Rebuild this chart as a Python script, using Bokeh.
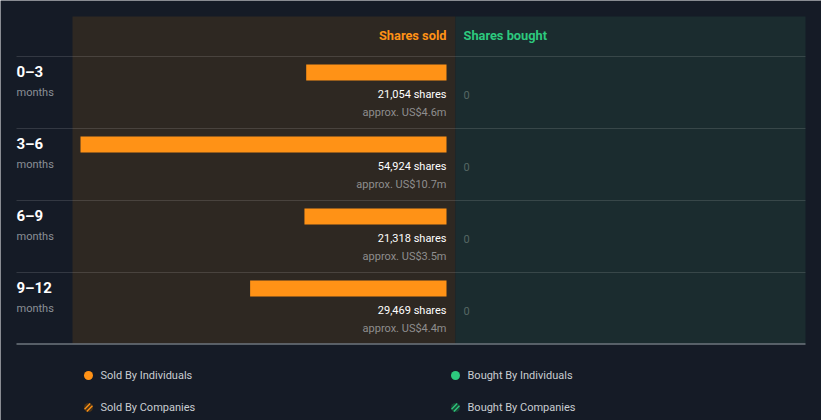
import math
from bokeh.plotting import figure
from bokeh.models import Range1d, ColumnDataSource
from bokeh.core.properties import value
from bokeh.embed import file_html
from bokeh.resources import INLINE

# ---- data ----
periods = ["0\u20133", "3\u20136", "6\u20139", "9\u201312"]
period_unit = ["months", "months", "months", "months"]
shares_sold = [21054, 54924, 21318, 29469]
sold_value = ["US$4.6m", "US$10.7m", "US$3.5m", "US$4.4m"]
shares_bought = [0, 0, 0, 0]
legend_labels = ["Sold By Individuals", "Bought By Individuals", "Sold By Companies", "Bought By Companies"]

# ---- layout (pixels) ----
W, H = 821, 420
BAR_RIGHT_PX = 446
BAR_MAX_PX = 366
k = max(shares_sold) / BAR_MAX_PX          # shares per pixel
S0 = BAR_RIGHT_PX * k


def px(x):
    return S0 - x * k


BG = "#151b26"
SOLD_BG = "#2e2822"
BOUGHT_BG = "#1b2c2f"
ORANGE = "#ff9216"
GREEN = "#2dc97e"
FONT = value("Roboto")

p = figure(width=W, height=H, output_backend="svg", toolbar_location=None,
           x_range=Range1d(px(0), px(W)), y_range=Range1d(H, 0),
           min_border=0, background_fill_color=BG, border_fill_color=BG,
           outline_line_color=None)
p.axis.visible = False
p.grid.visible = False

# panels
p.quad(left=[px(72)], right=[px(455)], top=[16], bottom=[343], fill_color=SOLD_BG, line_color=None)
p.quad(left=[px(455)], right=[px(805)], top=[16], bottom=[343], fill_color=BOUGHT_BG, line_color=None)

# headers
p.text(x=[px(446)], y=[35], text=["Shares sold"], text_color=ORANGE, text_font=FONT,
       text_font_size="12.8px", text_font_style="bold", text_align="right", text_baseline="middle")
p.text(x=[px(463)], y=[35], text=["Shares bought"], text_color=GREEN, text_font=FONT,
       text_font_size="12.8px", text_font_style="bold", text_align="left", text_baseline="middle")

ROW_TOP0, ROW_H = 56, 72
n = len(periods)
row_tops = [ROW_TOP0 + ROW_H * i for i in range(n)]

# separators
p.segment(x0=[px(16)] * n, x1=[px(805)] * n, y0=row_tops, y1=row_tops,
          line_color="#ffffff", line_alpha=0.13, line_width=1)
p.segment(x0=[px(16)], x1=[px(805)], y0=[343.5], y1=[343.5], line_color="#9aa3a8", line_width=1)

src = ColumnDataSource(dict(
    yc=[t + 16 for t in row_tops],
    ylab=[t + 15 for t in row_tops],
    yunit=[t + 36 for t in row_tops],
    yshares=[t + 38 for t in row_tops],
    yval=[t + 56 for t in row_tops],
    sold=shares_sold,
    bought=shares_bought,
    period=periods,
    unit=period_unit,
    shares_txt=[f"{s:,} shares" for s in shares_sold],
    val_txt=[f"approx. {v}" for v in sold_value],
    bought_txt=[f"{b:,}" for b in shares_bought],
))

p.hbar(y="yc", left=0, right="sold", height=16, source=src, fill_color=ORANGE, line_color=None)

p.text(x=px(16), y="ylab", text="period", source=src, text_color="#ffffff", text_font=FONT,
       text_font_size="15px", text_font_style="bold", text_baseline="middle")
p.text(x=px(16), y="yunit", text="unit", source=src, text_color="#8b9096", text_font=FONT,
       text_font_size="11px", text_baseline="middle")
p.text(x=px(446), y="yshares", text="shares_txt", source=src, text_color="#ffffff", text_font=FONT,
       text_font_size="11px", text_align="right", text_baseline="middle")
p.text(x=px(446), y="yval", text="val_txt", source=src, text_color="#8e8e8e", text_font=FONT,
       text_font_size="11px", text_align="right", text_baseline="middle")
p.text(x=px(463), y="yshares", text="bought_txt", source=src, text_color="#566764", text_font=FONT,
       text_font_size="11px", text_align="left", text_baseline="middle")

# legend
lx = [88, 455, 88, 455]
ly = [375, 375, 407, 407]
p.scatter(x=[px(lx[0])], y=[ly[0]], size=9, fill_color=ORANGE, line_color=None)
p.scatter(x=[px(lx[1])], y=[ly[1]], size=9, fill_color=GREEN, line_color=None)
p.scatter(x=[px(lx[2])], y=[ly[2]], size=9, fill_color="#4a3318", line_color=None)
p.scatter(x=[px(lx[3])], y=[ly[3]], size=9, fill_color="#1a4434", line_color=None)

# diagonal stripes for the "companies" swatches
R = 4.3
s2 = math.sqrt(0.5)
for cx, cy, col in [(lx[2], ly[2], ORANGE), (lx[3], ly[3], GREEN)]:
    x0s, x1s, y0s, y1s = [], [], [], []
    for d in (-1.6, 1.6):
        L = math.sqrt(R * R - d * d)
        mx, my = cx + d * s2, cy + d * s2
        x0s.append(px(mx - L * s2)); y0s.append(my + L * s2)
        x1s.append(px(mx + L * s2)); y1s.append(my - L * s2)
    p.segment(x0=x0s, x1=x1s, y0=y0s, y1=y1s, line_color=col, line_width=1.3)

p.text(x=[px(x + 12) for x in lx], y=ly, text=legend_labels, text_color="#c9cdd1", text_font=FONT,
       text_font_size="11px", text_align="left", text_baseline="middle")

open("out.html", "w").write(file_html(p, INLINE))
